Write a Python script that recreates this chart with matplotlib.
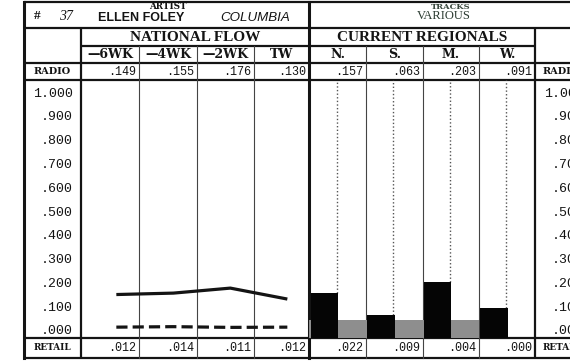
import matplotlib
matplotlib.use('Agg')
import matplotlib.pyplot as plt

# ---------------- data ----------------
chart_number = '37'
artist_caption = 'ARTIST'
artist = 'ELLEN FOLEY'
record_label = 'COLUMBIA'
tracks_caption = 'TRACKS'
tracks = 'VARIOUS'
national_title = 'NATIONAL FLOW'
regional_title = 'CURRENT REGIONALS'
weeks = ['\u20146WK', '\u20144WK', '\u20142WK', 'TW']
national_radio = [0.149, 0.155, 0.176, 0.130]
national_retail = [0.012, 0.014, 0.011, 0.012]
regions = ['N.', 'S.', 'M.', 'W.']
regional_radio = [0.157, 0.063, 0.203, 0.091]
regional_retail = [0.022, 0.009, 0.004, 0.000]
y_ticks = [0.0, 0.1, 0.2, 0.3, 0.4, 0.5, 0.6, 0.7, 0.8, 0.9, 1.0]
y_tick_labels = ['.000', '.100', '.200', '.300', '.400', '.500',
                 '.600', '.700', '.800', '.900', '1.000']

# ---------------- layout (pixels) ----------------
W, H = 570, 364
X_BORDER = 24
X_LAB = 81
X_NAT = [81, 139, 197, 254, 309]
X_REG = [309, 366, 423, 479, 535]
Y_TOP, Y_R1, Y_R2, Y_R3, Y_R4, Y_PB, Y_BOT = 1.5, 28, 46, 63, 80, 338, 358
PX_PER_UNIT = 238.0
Y_ZERO = 330
YMIN = -(Y_PB - Y_ZERO) / PX_PER_UNIT
YMAX = (Y_ZERO - Y_R4) / PX_PER_UNIT
BAND_TOP = 0.042

SERIF = 'Liberation Serif'
SLAB = 'DejaVu Serif'
SANS = 'Liberation Sans'
MONO = 'Liberation Mono'
INK = '#141414'


def fmt(v):
    return ('%.3f' % v).lstrip('0')


fig = plt.figure(figsize=(W / 100, H / 100), dpi=100)
fig.patch.set_facecolor('white')

ov = fig.add_axes([0, 0, 1, 1])
ov.set_xlim(0, W)
ov.set_ylim(H, 0)
ov.axis('off')

thick = dict(color=INK, lw=1.6, solid_capstyle='butt')
thin = dict(color='#444444', lw=0.8)

# outer / main rules
for y in [Y_TOP, Y_R1, Y_R3, Y_R4, Y_PB, Y_BOT]:
    ov.plot([X_BORDER, W], [y, y], **thick)
ov.plot([X_LAB, X_REG[-1]], [Y_R2, Y_R2], **thick)
ov.plot([X_BORDER, X_BORDER], [Y_TOP, Y_BOT], color=INK, lw=2.2)
ov.plot([X_LAB, X_LAB], [Y_R1, Y_BOT], **thick)
ov.plot([X_NAT[-1], X_NAT[-1]], [Y_TOP, Y_BOT], color=INK, lw=2.2)
ov.plot([X_REG[-1], X_REG[-1]], [Y_R1, Y_BOT], **thick)
for x in X_NAT[1:-1] + X_REG[1:-1]:
    ov.plot([x, x], [Y_R2, Y_BOT], **thin)

# header texts
ov.text(37, 16, '#', ha='center', va='center', fontsize=9.5, fontweight='bold',
        family=SERIF, color=INK)
ov.text(66, 16, chart_number, ha='center', va='center', fontsize=10,
        style='italic', family=SERIF, color=INK)
ov.text(168, 6.5, artist_caption, ha='center', va='center', fontsize=6.3,
        fontweight='bold', family=SLAB, color=INK)
ov.text(141, 18, artist, ha='center', va='center', fontsize=9,
        fontweight='bold', family=SANS, color=INK)
ov.text(255, 18, record_label, ha='center', va='center', fontsize=9.6,
        style='italic', family=SANS, color=INK)
ov.text(451, 7, tracks_caption, ha='center', va='center', fontsize=6,
        fontweight='bold', family=SLAB, color='#3c4a40')
ov.text(444, 16, tracks, ha='center', va='center', fontsize=9,
        family=SERIF, color='#2a3a30')

ov.text((X_NAT[0] + X_NAT[-1]) / 2, 37.5, national_title, ha='center',
        va='center', fontsize=11, fontweight='bold', family=SERIF, color=INK)
ov.text((X_REG[0] + X_REG[-1]) / 2, 37.5, regional_title, ha='center',
        va='center', fontsize=11, fontweight='bold', family=SERIF, color=INK)

for i, wk in enumerate(weeks):
    ov.text((X_NAT[i] + X_NAT[i + 1]) / 2, 55, wk, ha='center', va='center',
            fontsize=9, fontweight='bold', family=SLAB, color=INK)
    ov.text(X_NAT[i + 1] - 3, 72, fmt(national_radio[i]), ha='right',
            va='center', fontsize=8.5, family=MONO, color=INK)
    ov.text(X_NAT[i + 1] - 3, 348, fmt(national_retail[i]), ha='right',
            va='center', fontsize=8.5, family=MONO, color=INK)
for i, rg in enumerate(regions):
    ov.text((X_REG[i] + X_REG[i + 1]) / 2, 55, rg, ha='center', va='center',
            fontsize=9, fontweight='bold', family=SLAB, color=INK)
    ov.text(X_REG[i + 1] - 3, 72, fmt(regional_radio[i]), ha='right',
            va='center', fontsize=8.5, family=MONO, color=INK)
    ov.text(X_REG[i + 1] - 3, 348, fmt(regional_retail[i]), ha='right',
            va='center', fontsize=8.5, family=MONO, color=INK)

for x0, ha in [((X_BORDER + X_LAB) / 2, 'center'), (X_REG[-1] + 8, 'left')]:
    ov.text(x0, 72, 'RADIO', ha=ha, va='center', fontsize=7,
            fontweight='bold', family=SLAB, color=INK)
    ov.text(x0, 348, 'RETAIL', ha=ha, va='center', fontsize=6.4,
            fontweight='bold', family=SLAB, color=INK)


def frac_box(x0, x1, y0, y1):
    return [x0 / W, 1 - y1 / H, (x1 - x0) / W, (y1 - y0) / H]


# ---------------- national flow (lines) ----------------
ax1 = fig.add_axes(frac_box(X_NAT[0], X_NAT[-1], Y_R4, Y_PB))
ax1.set_facecolor('none')
ax1.set_xlim(0, len(weeks))
ax1.set_ylim(YMIN, YMAX)
xs = [i + 0.62 for i in range(len(weeks))]
ax1.plot(xs, national_radio, color=INK, lw=2.3, solid_capstyle='butt')
ax1.plot(xs, national_retail, color=INK, lw=2.3, dashes=(3.5, 1.6),
         dash_capstyle='butt')
ax1.set_xticks([])
ax1.set_yticks(y_ticks)
ax1.set_yticklabels(y_tick_labels, family=MONO, fontsize=9.5, color=INK)
ax1.tick_params(axis='y', length=0, pad=6)
for s in ax1.spines.values():
    s.set_visible(False)

# ---------------- current regionals (bars) ----------------
ax2 = fig.add_axes(frac_box(X_REG[0], X_REG[-1], Y_R4, Y_PB))
ax2.set_facecolor('none')
ax2.set_xlim(0, len(regions))
ax2.set_ylim(YMIN, YMAX)
ax2.axhspan(YMIN, BAND_TOP, xmin=0, xmax=3 / len(regions), color='#8e8e8e',
            lw=0, zorder=1)
bx = [i + 0.03 for i in range(len(regions))]
ax2.bar(bx, [v - YMIN for v in regional_radio], bottom=YMIN, width=0.49,
        align='edge', color='#050505', zorder=3)
ax2.vlines([i + 0.49 for i in range(len(regions))], regional_radio, YMAX,
           colors='#555555', lw=1.0, linestyles=(0, (1, 1.6)), zorder=2)
ax2.set_xticks([])
ax2.set_yticks([])
for s in ax2.spines.values():
    s.set_visible(False)

# ---------------- neighbouring chart (cut off at right edge, as in source) ----------------
ax3 = fig.add_axes(frac_box(X_REG[-1] + (X_LAB - X_BORDER), W + 200, Y_R4, Y_PB))
ax3.set_facecolor('none')
ax3.set_ylim(YMIN, YMAX)
ax3.set_xticks([])
ax3.set_yticks(y_ticks)
ax3.set_yticklabels(y_tick_labels, family=MONO, fontsize=9.5, color=INK)
ax3.tick_params(axis='y', length=0, pad=6)
for s in ax3.spines.values():
    s.set_visible(False)

fig.savefig('out.png', dpi=100, facecolor='white')
